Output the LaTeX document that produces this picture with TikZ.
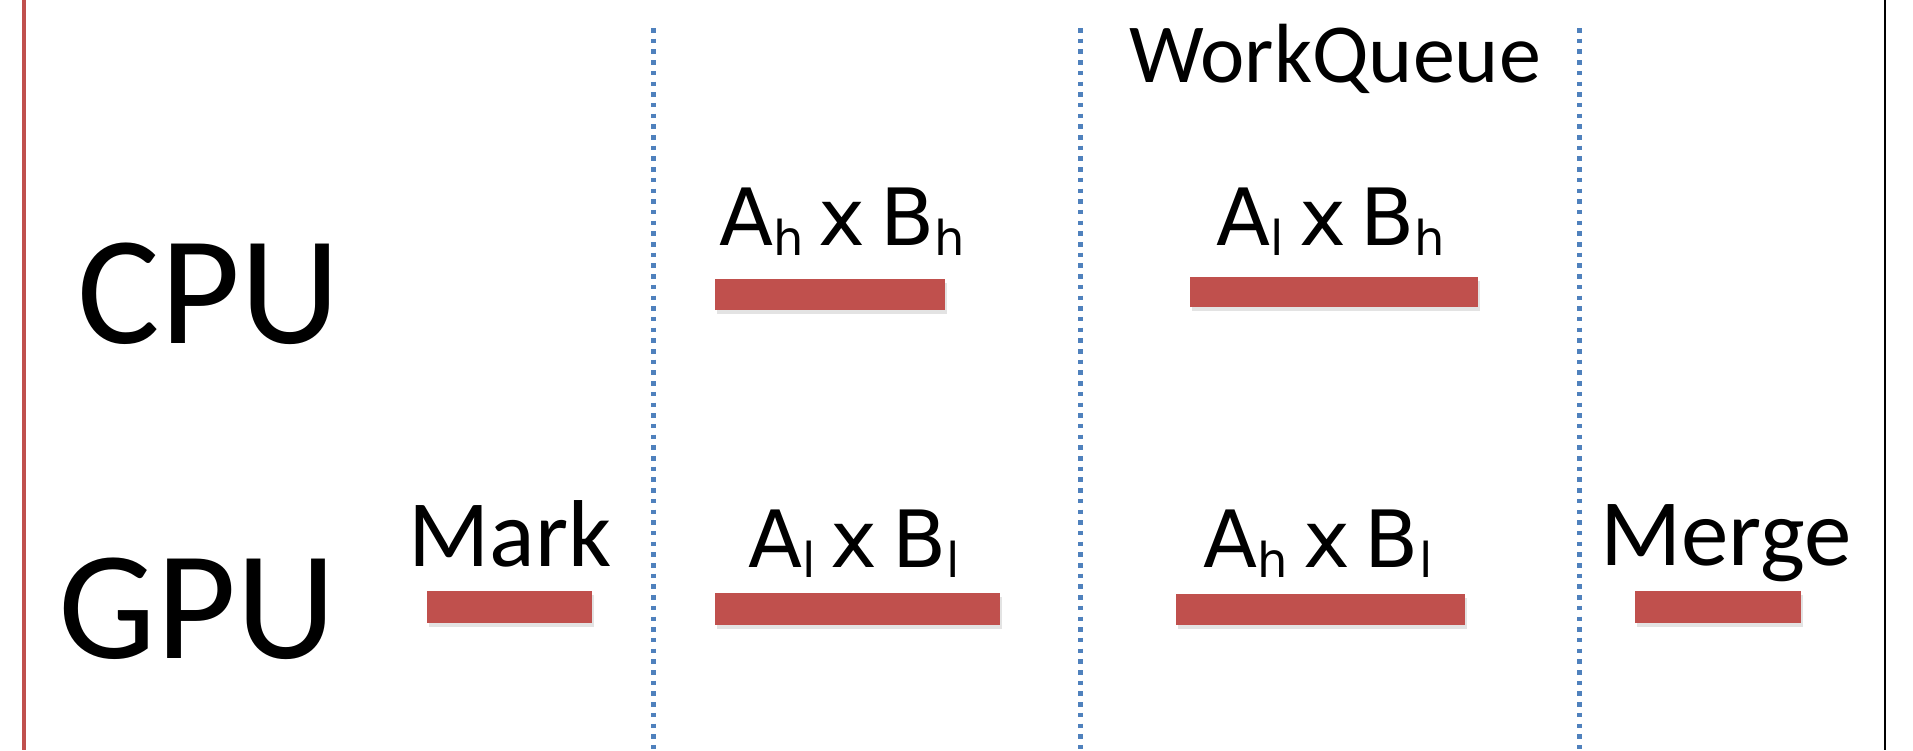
\documentclass[tikz,border=0pt]{standalone}
\usepackage{fontspec}
\setmainfont{Carlito}
\newfontfamily\lucfont{DejaVu Sans}
\usetikzlibrary{shadows}
\definecolor{barred}{HTML}{C0504D}
\definecolor{dotblue}{HTML}{4F81BD}
\newcommand\subl[1]{\raisebox{-10pt}{\fontsize{48}{48}\selectfont #1}}
\newcommand\gap{\hspace{15pt}}
\begin{document}
\begin{tikzpicture}[x=1pt,y=-1pt,
  bar/.style={fill=barred, inner sep=0pt, outer sep=0pt,
    drop shadow={shadow xshift=1.5pt,shadow yshift=-4pt,opacity=0.22}},
  big/.style={anchor=base, inner sep=0pt, font=\fontsize{155}{160}\selectfont},
  mid/.style={anchor=base, inner sep=0pt, font=\fontsize{95}{100}\selectfont},
  wqs/.style={anchor=base, inner sep=0pt, font=\fontsize{84}{90}\selectfont},
  ab/.style={anchor=base, inner sep=0pt, font=\lucfont\fontsize{79}{84}\selectfont},
  sep/.style={dotblue, line width=5pt, dash pattern=on 4.5pt off 6.2pt},
]
\useasboundingbox (0,0) rectangle (1913,750);
\fill[white] (0,0) rectangle (1913,750);
% frame lines
\coordinate (lt) at (24,0); \coordinate (lb) at (24,750);
\coordinate (rt) at (1885,0); \coordinate (rb) at (1885,750);
\draw[barred, line width=4pt] (lt) -- (lb);
\draw[black, line width=2.5pt] (rt) -- (rb);
% separators
\coordinate (s1t) at (653,28); \coordinate (s1b) at (653,750);
\coordinate (s2t) at (1080,28); \coordinate (s2b) at (1080,750);
\coordinate (s3t) at (1579,28); \coordinate (s3b) at (1579,750);
\draw[sep] (s1t) -- (s1b);
\draw[sep] (s2t) -- (s2b);
\draw[sep] (s3t) -- (s3b);
% labels
\node[big] (cpu) at (209,343) {CPU};
\node[big] (gpu) at (197,658) {GPU};
\node[mid] (mark) at (510,566) {Mark};
\node[mid] (merge) at (1726,565) {Merge};
\node[wqs] (wq) at (1335,82) {WorkQueue};
\node[ab] (t1) at (842,245) {A\subl{h}\gap x\gap B\subl{h}};
\node[ab] (t2) at (1331,245) {A\subl{l}\gap x\gap B\subl{h}};
\node[ab] (g1) at (854,567) {A\subl{l}\gap x\gap B\subl{l}};
\node[ab] (g2) at (1318,567) {A\subl{h}\gap x\gap B\subl{l}};
% bars
\node[bar, minimum width=230pt, minimum height=31pt] (bt1) at (830,294.5) {};
\node[bar, minimum width=288pt, minimum height=30pt] (bt2) at (1334,292) {};
\node[bar, minimum width=165pt, minimum height=32pt] (bmark) at (509.5,607) {};
\node[bar, minimum width=285pt, minimum height=32pt] (bg1) at (857.5,609) {};
\node[bar, minimum width=289pt, minimum height=31pt] (bg2) at (1320.5,609.5) {};
\node[bar, minimum width=166pt, minimum height=32pt] (bmerge) at (1718,607) {};
\end{tikzpicture}
\end{document}
